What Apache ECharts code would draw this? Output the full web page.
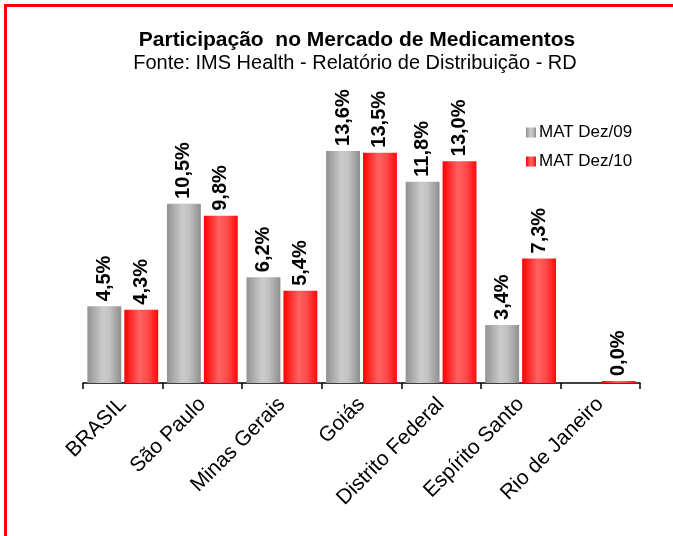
<!DOCTYPE html>
<html>
<head>
<meta charset="utf-8">
<script src="https://cdn.jsdelivr.net/npm/echarts@6/dist/echarts.min.js"></script>
<style>
    html, body { margin: 0; padding: 0; background: #fff; }
    #wrap { position: relative; width: 673px; height: 536px; overflow: hidden; }
    #frame { position: absolute; left: 4px; top: 4px; width: 720px; height: 600px; border: 3px solid #ff0000; }
    #main { position: absolute; left: 0; top: 0; width: 673px; height: 536px; }
</style>
</head>
<body>
<div id="wrap">
    <div id="frame"></div>
    <div id="main"></div>
</div>
<script>
// dados
var categorias = ["BRASIL", "São Paulo", "Minas Gerais", "Goiás", "Distrito Federal", "Espírito Santo", "Rio de Janeiro"];
var matDez09 = [4.5, 10.5, 6.2, 13.6, 11.8, 3.4, null];
var matDez10 = [4.3, 9.8, 5.4, 13.5, 13.0, 7.3, 0.04];
var nomesSeries = ["MAT Dez/09", "MAT Dez/10"];

(function () {
    var myChart = echarts.init(document.getElementById("main"));

    var cinza = new echarts.graphic.LinearGradient(0, 0, 1, 0, [
        {offset: 0, color: "#929292"},
        {offset: 0.45, color: "#cbcbcb"},
        {offset: 0.65, color: "#c2c2c2"},
        {offset: 1, color: "#8e8e8e"}
    ]);
    var vermelho = new echarts.graphic.LinearGradient(0, 0, 1, 0, [
        {offset: 0, color: "#ff0000"},
        {offset: 0.45, color: "#ff6262"},
        {offset: 0.7, color: "#ff4a4a"},
        {offset: 1, color: "#ff0a0a"}
    ]);

    function rotulo(p) {
        return p.value.toFixed(1).replace(".", ",") + "%";
    }
    var estiloRotulo = {
        show: true,
        position: "top",
        rotate: 90,
        align: "left",
        verticalAlign: "middle",
        distance: 5,
        color: "#000",
        fontWeight: "bold",
        fontSize: 20,
        fontFamily: "Liberation Sans, Arial, sans-serif",
        formatter: rotulo
    };

    var option = {
        animation: false,
        backgroundColor: "transparent",
        textStyle: {fontFamily: "Liberation Sans, Arial, sans-serif"},
        title: [
            {
                text: "Participação  no Mercado de Medicamentos",
                left: 352,
                top: 25,
                textAlign: "center",
                textStyle: {fontSize: 21, fontWeight: "bold", color: "#000"}
            },
            {
                text: "Fonte: IMS Health - Relatório de Distribuição - RD",
                left: 350,
                top: 48,
                textAlign: "center",
                textStyle: {fontSize: 20, fontWeight: "normal", color: "#000"}
            }
        ],
        legend: {
            orient: "vertical",
            left: 521,
            top: 119,
            itemWidth: 10,
            itemHeight: 10,
            itemGap: 12,
            icon: "rect",
            textStyle: {fontSize: 17, color: "#000", padding: [0, 0, 0, -2]},
            data: nomesSeries
        },
        grid: {
            left: 83,
            right: 33,
            top: 110,
            bottom: 153,
            containLabel: false
        },
        xAxis: {
            type: "category",
            data: categorias,
            axisLine: {lineStyle: {color: "#000", width: 1.5}},
            axisTick: {show: true, length: 6, lineStyle: {color: "#000", width: 1.5}},
            axisLabel: {
                interval: 0,
                rotate: 45,
                margin: 18,
                color: "#000",
                fontSize: 21
            }
        },
        yAxis: {
            type: "value",
            min: 0,
            max: 16,
            show: false,
            splitLine: {show: false}
        },
        series: [
            {
                name: nomesSeries[0],
                type: "bar",
                data: matDez09,
                barGap: "9%",
                barCategoryGap: "11%",
                itemStyle: {color: cinza},
                label: estiloRotulo
            },
            {
                name: nomesSeries[1],
                type: "bar",
                data: matDez10,
                barMinHeight: 2,
                itemStyle: {color: vermelho},
                label: estiloRotulo
            }
        ]
    };
    myChart.setOption(option);
    window.addEventListener("resize", function () {
        myChart.resize();
    });
})();
</script>
</body>
</html>
